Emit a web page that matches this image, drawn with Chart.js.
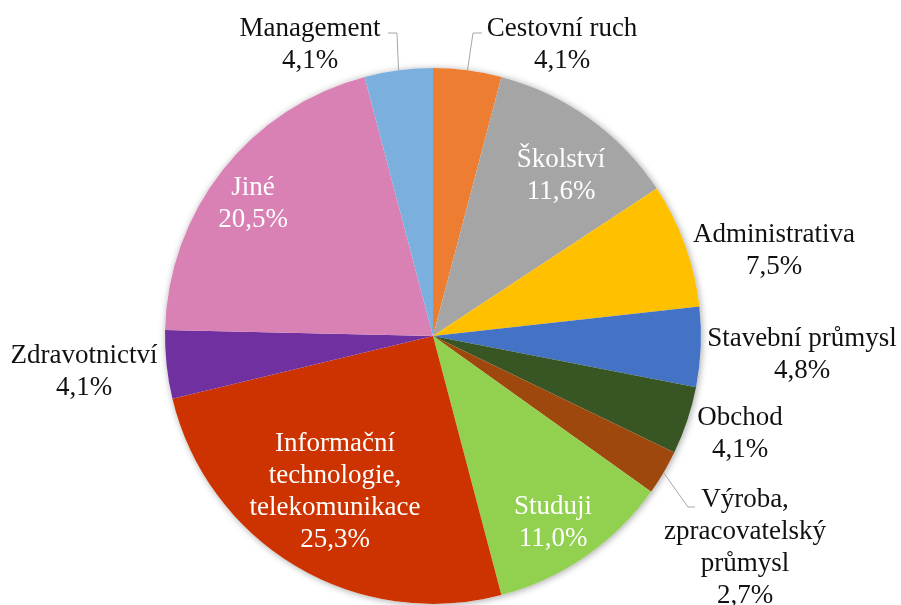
<!DOCTYPE html>
<html>
<head>
<meta charset="utf-8">
<script src="https://cdn.jsdelivr.net/npm/chart.js@4"></script>
<style>
  html, body { margin: 0; padding: 0; background: #fff; }
  #chart { display: block; }
</style>
</head>
<body>
<canvas id="chart" width="901" height="605"></canvas>
<script>
//
// DATA
//

const categories = [
  "Cestovní ruch",
  "Školství",
  "Administrativa",
  "Stavební průmysl",
  "Obchod",
  ["Výroba,", "zpracovatelský", "průmysl"],
  "Studuji",
  ["Informační", "technologie,", "telekomunikace"],
  "Zdravotnictví",
  "Jiné",
  "Management",
];
const shares = [4.1, 11.6, 7.5, 4.8, 4.1, 2.7, 11.0, 25.3, 4.1, 20.5, 4.1];
const colors = [
  "#ED7D31", "#A5A5A5", "#FFC000", "#4472C4", "#375623", "#9E480E",
  "#92D050", "#CC3300", "#7030A0", "#D980B5", "#7BAFDE",
];

//
// LABEL LAYOUT (px from pie centre)
//

const labelSpots = [
  { dx: 129, dy: -291, inside: false, leader: [[40, -303], [49, -303]] },
  { dx: 128, dy: -160, inside: true },
  { dx: 341, dy: -85, inside: false },
  { dx: 369, dy: 19, inside: false },
  { dx: 307, dy: 98, inside: false },
  { dx: 312, dy: 212, inside: false, leader: [[255, 171], [262, 171]] },
  { dx: 120, dy: 187, inside: true },
  { dx: -98, dy: 156, inside: true },
  { dx: -349, dy: 36, inside: false },
  { dx: -180, dy: -132, inside: true },
  { dx: -123, dy: -291, inside: false, leader: [[-36, -303], [-45, -303]] },
];

const LINE_H = 32;

function fmtPct(v) {
  return v.toFixed(1).replace(".", ",") + "%";
}

//
// PLUGINS
//

const pieShadow = {
  id: "pieShadow",
  beforeDatasetsDraw(chart) {
    const arc = chart.getDatasetMeta(0).data[0];
    if (!arc) return;
    const { ctx } = chart;
    ctx.save();
    ctx.beginPath();
    ctx.arc(arc.x, arc.y, arc.outerRadius, 0, Math.PI * 2);
    ctx.shadowColor = "rgba(0,0,0,0.35)";
    ctx.shadowBlur = 7;
    ctx.shadowOffsetX = 1;
    ctx.shadowOffsetY = 1;
    ctx.fillStyle = "#fff";
    ctx.fill();
    ctx.restore();
  },
};

const sliceLabels = {
  id: "sliceLabels",
  afterDatasetsDraw(chart) {
    const { ctx } = chart;
    const arcs = chart.getDatasetMeta(0).data;
    ctx.save();
    ctx.font = '27px "Liberation Serif", "Times New Roman", serif';
    ctx.textAlign = "center";
    ctx.textBaseline = "middle";

    arcs.forEach((arc, i) => {
      const spot = labelSpots[i];
      const cx = arc.x, cy = arc.y;

      if (spot.leader) {
        const mid = (arc.startAngle + arc.endAngle) / 2;
        ctx.beginPath();
        ctx.moveTo(cx + Math.cos(mid) * arc.outerRadius, cy + Math.sin(mid) * arc.outerRadius);
        spot.leader.forEach(([lx, ly]) => ctx.lineTo(cx + lx, cy + ly));
        ctx.strokeStyle = "#A6A6A6";
        ctx.lineWidth = 1;
        ctx.stroke();
      }

      const name = categories[i];
      const lines = (Array.isArray(name) ? name : [name]).concat(fmtPct(shares[i]));
      const top = cy + spot.dy - ((lines.length - 1) * LINE_H) / 2;
      ctx.fillStyle = spot.inside ? "#ffffff" : "#111111";
      lines.forEach((t, k) => ctx.fillText(t, cx + spot.dx, top + k * LINE_H));
    });
    ctx.restore();
  },
};

//
// CHART
//

new Chart(document.getElementById("chart"), {
  type: "pie",
  data: {
    labels: categories,
    datasets: [
      {
        data: shares,
        backgroundColor: colors,
        borderWidth: 0,
      },
    ],
  },
  options: {
    responsive: false,
    animation: false,
    layout: { padding: { top: 68, bottom: 1, left: 165, right: 200 } },
    plugins: {
      legend: { display: false },
      tooltip: { enabled: false },
    },
  },
  plugins: [pieShadow, sliceLabels],
});
</script>
</body>
</html>
